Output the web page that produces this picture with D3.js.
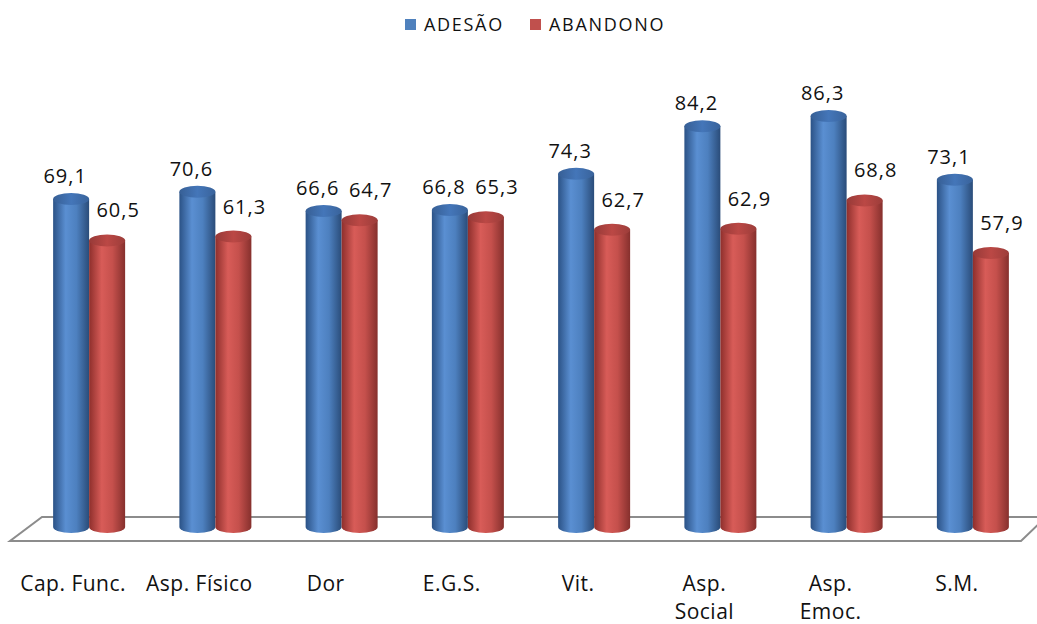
<!DOCTYPE html>
<html>
<head>
<meta charset="utf-8">
<script src="https://cdn.jsdelivr.net/npm/d3@7"></script>
<style>
body { margin: 0; background: #fff; }
svg { display: block; font-family: "Open Sans", "DejaVu Sans", sans-serif; }
</style>
</head>
<body>
<svg width="1037" height="624"></svg>
<script>
const categories = ["Cap. Func.", "Asp. Físico", "Dor", "E.G.S.", "Vit.", "Asp.|Social", "Asp.|Emoc.", "S.M."];
const adesao = [69.1, 70.6, 66.6, 66.8, 74.3, 84.2, 86.3, 73.1];
const abandono = [60.5, 61.3, 64.7, 65.3, 62.7, 62.9, 68.8, 57.9];
const seriesNames = ["ADESÃO", "ABANDONO"];

const svg = d3.select("svg");
const defs = svg.append("defs");

const x = d3.scaleBand().domain(categories).range([26, 1036]);
const y = d3.scaleLinear().domain([0, 100]).range([532, 50]);
const baseY = 527;
const barW = 36, ry = 6;

const colors = [
    { side: ["#2b5286", "#5a8fd2", "#4d80bf", "#2a4c79"], top: "#3d6aa6", swatch: "#4f81bd" },
    { side: ["#8e2f2c", "#d85c58", "#c5504c", "#86302d"], top: "#a8413e", swatch: "#c0504d" }
];
colors.forEach((c, i) => {
    const g = defs.append("linearGradient").attr("id", "grad" + i);
    [0, 0.35, 0.65, 1].forEach((o, j) => g.append("stop").attr("offset", o).attr("stop-color", c.side[j]));
    const t = defs.append("linearGradient").attr("id", "top" + i).attr("x1", 0).attr("x2", 1);
    t.append("stop").attr("offset", 0).attr("stop-color", d3.color(c.top).darker(0.3));
    t.append("stop").attr("offset", 0.5).attr("stop-color", d3.color(c.top).brighter(0.3));
    t.append("stop").attr("offset", 1).attr("stop-color", d3.color(c.top).darker(0.2));
});

// floor
svg.append("polygon")
    .attr("points", [[10, 541], [1021, 541], [1046, 517], [42, 517]].join(" "))
    .attr("fill", "#fff")
    .attr("stroke", "#8c8c8c")
    .attr("stroke-width", 2);

// cylinders
function cylinder(g, cx, v, s) {
    const top = y(v);
    const left = cx - barW / 2, right = cx + barW / 2;
    g.append("path")
        .attr("d", `M${left},${top} L${left},${baseY} A${barW / 2},${ry} 0 0 0 ${right},${baseY} L${right},${top} Z`)
        .attr("fill", `url(#grad${s})`);
    g.append("ellipse")
        .attr("cx", cx).attr("cy", top)
        .attr("rx", barW / 2).attr("ry", ry)
        .attr("fill", `url(#top${s})`);
}

const bars = svg.append("g");
categories.forEach((c, i) => {
    const center = x(c) + x.bandwidth() / 2;
    cylinder(bars, center - barW / 2, adesao[i], 0);
    cylinder(bars, center + barW / 2, abandono[i], 1);
});

// value labels
const fmt = v => d3.format(".1f")(v).replace(".", ",");
const labels = svg.append("g").attr("font-size", 20).attr("letter-spacing", 1)
    .attr("fill", "#111").attr("text-anchor", "middle");
categories.forEach((c, i) => {
    const center = x(c) + x.bandwidth() / 2;
    labels.append("text")
        .attr("x", center - barW / 2 - 6)
        .attr("y", y(adesao[i]) - 16)
        .text(fmt(adesao[i]));
    labels.append("text")
        .attr("x", center + barW / 2 + 11)
        .attr("y", y(abandono[i]) - 23)
        .text(fmt(abandono[i]));
});

// category labels
const cats = svg.append("g").attr("font-size", 21).attr("letter-spacing", 0.5)
    .attr("fill", "#111").attr("text-anchor", "middle");
categories.forEach(c => {
    const center = x(c) + x.bandwidth() / 2 - 16;
    const t = cats.append("text").attr("x", center).attr("y", 591);
    c.split("|").forEach((line, j) => {
        t.append("tspan").attr("x", center).attr("dy", j ? 28 : 0).text(line);
    });
});

// legend
const legend = svg.append("g").attr("font-size", 18).attr("letter-spacing", 1.7).attr("fill", "#111");
const legendX = [405, 530];
seriesNames.forEach((n, i) => {
    legend.append("rect").attr("x", legendX[i]).attr("y", 19).attr("width", 11).attr("height", 11)
        .attr("fill", colors[i].swatch);
    legend.append("text").attr("x", legendX[i] + 19).attr("y", 31).text(n);
});
</script>
</body>
</html>
